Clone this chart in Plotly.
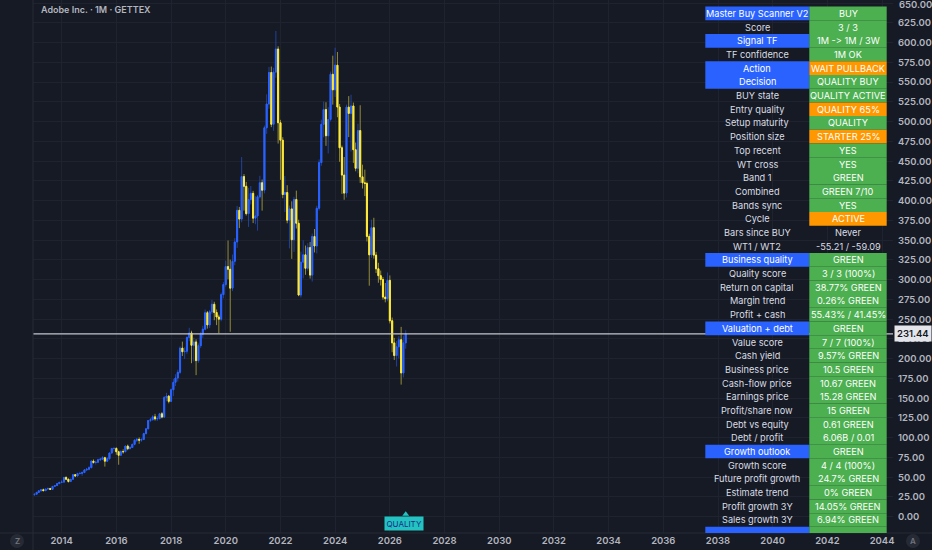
import plotly.graph_objects as go
import numpy as np

# ---------------- data (EUR, monthly, GETTEX) ----------------
dates = [f"{y}-{m:02d}-01" for y in range(2013, 2027) for m in range(1, 13)][:164]

open_ = [
    27.6, 28.5, 30.8, 32.8, 34.1, 33.0, 35.0, 35.8, 34.6, 38.4, 39.4, 41.9,
    43.5, 43.8, 49.7, 47.4, 44.6, 47.4, 53.2, 51.6, 54.7, 54.8, 55.9, 59.2,
    60.1, 62.1, 70.4, 68.6, 68.9, 72.1, 72.8, 74.7, 70.3, 73.4, 80.6, 86.3,
    86.4, 82.2, 77.8, 82.4, 82.3, 89.4, 86.1, 87.6, 91.6, 96.8, 97.9, 96.9,
    97.8, 105.2, 111.3, 121.8, 122.9, 126.4, 123.9, 124.2, 130.3, 126.1, 150.8, 152.6,
    146.0, 160.7, 170.1, 175.6, 182.8, 213.4, 208.8, 209.4, 226.9, 232.6, 216.9, 221.2,
    197.6, 216.5, 230.9, 237.3, 258.2, 242.8, 259.3, 268.9, 258.5, 252.8, 250.0, 281.1,
    293.9, 316.6, 313.2, 289.3, 323.3, 347.8, 387.8, 376.7, 430.5, 418.2, 383.6, 401.5,
    409.3, 377.9, 380.7, 404.9, 422.7, 413.3, 492.3, 522.3, 562.2, 496.7, 562.7, 591.9,
    498.6, 476.6, 407.8, 410.3, 375.3, 389.6, 350.6, 401.5, 371.4, 280.6, 322.2, 331.5,
    314.4, 340.6, 305.8, 354.7, 342.6, 390.4, 448.2, 496.6, 515.3, 482.2, 502.8, 560.0,
    540.3, 571.5, 518.5, 467.0, 432.4, 409.6, 518.4, 510.5, 519.9, 464.5, 441.0, 488.7,
    430.2, 422.6, 421.8, 354.8, 331.5, 365.8, 331.1, 313.8, 305.1, 300.3, 278.0, 276.0,
    299.2, 248.0, 220.0, 204.0, 215.0, 224.0, 182.0, 220.0,
]
high = [
    29.0, 31.2, 33.2, 34.6, 35.6, 35.5, 36.9, 36.4, 38.9, 40.2, 42.3, 44.0,
    46.3, 50.6, 51.2, 48.3, 47.9, 53.8, 54.1, 55.6, 56.9, 57.3, 60.4, 61.8,
    63.9, 71.3, 72.6, 71.0, 73.4, 74.6, 76.8, 75.9, 75.4, 81.4, 87.2, 88.4,
    87.9, 83.6, 84.1, 85.3, 90.2, 91.3, 89.5, 92.4, 98.1, 99.7, 100.4, 99.2,
    106.3, 112.4, 122.6, 125.1, 128.7, 130.2, 127.6, 131.5, 132.4, 152.9, 156.8, 154.1,
    162.4, 174.2, 180.3, 186.1, 215.7, 221.6, 214.5, 228.3, 239.1, 235.4, 226.8, 224.6,
    219.4, 234.1, 241.7, 262.3, 260.4, 261.8, 274.6, 272.1, 262.3, 255.7, 283.6, 297.2,
    324.1, 349.6, 325.4, 331.8, 352.6, 393.4, 392.1, 455.2, 433.7, 423.8, 416.2, 418.6,
    412.4, 405.6, 407.2, 431.5, 426.8, 495.1, 534.6, 569.3, 569.8, 568.2, 614.8, 595.4,
    502.3, 480.4, 431.2, 419.6, 393.8, 399.2, 404.8, 412.7, 375.9, 335.6, 349.8, 343.2,
    346.2, 347.8, 358.4, 364.1, 393.6, 452.3, 502.6, 525.4, 524.6, 518.3, 563.4, 583.5,
    593.6, 588.2, 522.4, 469.8, 455.3, 521.6, 532.4, 534.1, 524.2, 473.6, 497.4, 520.8,
    445.6, 439.3, 424.1, 358.2, 375.9, 378.4, 335.2, 321.4, 311.6, 303.4, 295.8, 309.2,
    305.4, 252.1, 226.3, 222.4, 228.6, 240.3, 229.2, 236.1,
]
low = [
    27.2, 28.2, 30.1, 31.7, 32.5, 32.4, 34.6, 33.9, 34.3, 37.5, 38.9, 41.3,
    42.6, 43.1, 46.3, 43.2, 43.8, 46.9, 50.2, 50.9, 53.4, 51.8, 55.2, 57.6,
    58.8, 61.4, 67.2, 66.1, 68.1, 70.5, 71.9, 63.5, 69.2, 72.3, 79.8, 82.6,
    78.4, 65.8, 77.1, 79.8, 81.6, 84.2, 85.3, 86.9, 90.4, 94.6, 92.3, 94.8,
    96.9, 104.1, 110.6, 119.8, 121.4, 121.7, 121.2, 123.1, 124.6, 125.3, 146.2, 143.5,
    145.1, 152.6, 165.4, 171.2, 180.9, 203.4, 199.7, 206.2, 222.1, 194.3, 196.5, 179.2,
    194.8, 213.6, 226.4, 235.8, 238.1, 238.9, 256.4, 248.7, 242.5, 232.1, 247.3, 276.4,
    291.2, 300.5, 234.1, 285.6, 318.4, 340.2, 365.3, 372.6, 387.4, 381.2, 366.8, 395.3,
    371.6, 370.2, 362.1, 402.6, 387.4, 409.2, 484.5, 516.4, 493.1, 488.4, 555.6, 472.3,
    426.4, 403.1, 385.6, 371.4, 339.6, 326.4, 335.2, 364.8, 279.1, 277.4, 301.6, 306.2,
    311.3, 301.4, 297.6, 334.5, 333.2, 387.6, 444.1, 480.2, 469.4, 459.8, 500.4, 521.6,
    531.2, 505.6, 449.2, 408.6, 401.2, 404.1, 480.5, 462.3, 447.8, 437.2, 434.6, 422.5,
    415.4, 405.8, 348.3, 292.4, 327.6, 326.7, 308.4, 296.1, 292.6, 274.8, 271.3, 272.6,
    244.6, 208.2, 198.4, 190.1, 200.3, 167.2, 176.4, 212.6,
]
close = [
    28.5, 30.8, 32.8, 34.1, 33.0, 35.0, 35.8, 34.6, 38.4, 39.4, 41.9, 43.5,
    43.8, 49.7, 47.4, 44.6, 47.4, 53.2, 51.6, 54.7, 54.8, 55.9, 59.2, 60.1,
    62.1, 70.4, 68.6, 68.9, 72.1, 72.8, 74.7, 70.3, 73.4, 80.6, 86.3, 86.4,
    82.2, 77.8, 82.4, 82.3, 89.4, 86.1, 87.6, 91.6, 96.8, 97.9, 96.9, 97.8,
    105.2, 111.3, 121.8, 122.9, 126.4, 123.9, 124.2, 130.3, 126.1, 150.8, 152.6, 146.0,
    160.7, 170.1, 175.6, 182.8, 213.4, 208.8, 209.4, 226.9, 232.6, 216.9, 221.2, 197.6,
    216.5, 230.9, 237.3, 258.2, 242.8, 259.3, 268.9, 258.5, 252.8, 250.0, 281.1, 293.9,
    316.6, 313.2, 289.3, 323.3, 347.8, 387.8, 376.7, 430.5, 418.2, 383.6, 401.5, 409.3,
    377.9, 380.7, 404.9, 422.7, 413.3, 492.3, 522.3, 562.2, 496.7, 562.7, 591.9, 498.6,
    476.6, 407.8, 410.3, 375.3, 389.6, 350.6, 401.5, 371.4, 280.6, 322.2, 331.5, 314.4,
    340.6, 305.8, 354.7, 342.6, 390.4, 448.2, 496.6, 515.3, 482.2, 502.8, 560.0, 540.3,
    571.5, 518.5, 467.0, 432.4, 409.6, 518.4, 510.5, 519.9, 464.5, 441.0, 488.7, 430.2,
    422.6, 421.8, 354.8, 331.5, 365.8, 331.1, 313.8, 305.1, 300.3, 278.0, 276.0, 299.2,
    248.0, 220.0, 204.0, 215.0, 224.0, 182.0, 220.0, 231.44,
]

title_text = "Adobe Inc. · 1M · GETTEX"
last_price = close[-1]
signal_label = "QUALITY"
top_price_label = 650

table_labels = [
    "Master Buy Scanner V2", "Score", "Signal TF", "TF confidence", "Action", "Decision",
    "BUY state", "Entry quality", "Setup maturity", "Position size", "Top recent", "WT cross",
    "Band 1", "Combined", "Bands sync", "Cycle", "Bars since BUY", "WT1 / WT2",
    "Business quality", "Quality score", "Return on capital", "Margin trend", "Profit + cash",
    "Valuation + debt", "Value score", "Cash yield", "Business price", "Cash-flow price",
    "Earnings price", "Profit/share now", "Debt vs equity", "Debt / profit",
    "Growth outlook", "Growth score", "Future profit growth", "Estimate trend",
    "Profit growth 3Y", "Sales growth 3Y", "Advanced",
]
table_values = [
    "BUY", "3 / 3", "1M -\u200c> 1M / 3W", "1M OK", "WAIT PULLBACK", "QUALITY BUY",
    "QUALITY ACTIVE", "QUALITY 65%", "QUALITY", "STARTER 25%", "YES", "YES",
    "GREEN", "GREEN 7/10", "YES", "ACTIVE", "Never", "-55.21 / -59.09",
    "GREEN", "3 / 3 (100%)", "38.77% GREEN", "0.26% GREEN", "55.43% / 41.45%",
    "GREEN", "7 / 7 (100%)", "9.57% GREEN", "10.5 GREEN", "10.67 GREEN",
    "15.28 GREEN", "15 GREEN", "0.61 GREEN", "6.06B / 0.01",
    "GREEN", "4 / 4 (100%)", "24.7% GREEN", "0% GREEN",
    "14.05% GREEN", "6.94% GREEN", "GREEN",
]
# left cell style: 'h' = blue header cell, '' = plain
table_left_style = [
    "h", "", "h", "", "h", "h", "", "", "", "", "", "",
    "", "", "", "", "", "",
    "h", "", "", "", "",
    "h", "", "", "", "", "", "", "", "",
    "h", "", "", "", "", "", "h",
]
# right cell style: 'g' green, 'o' orange, '' none
table_right_style = [
    "g", "g", "g", "g", "o", "g", "g", "o", "g", "o", "g", "g",
    "g", "g", "g", "o", "", "",
    "g", "g", "g", "g", "g",
    "g", "g", "g", "g", "g", "g", "g", "g", "g",
    "g", "g", "g", "g", "g", "g", "g",
]

# ---------------- style ----------------
W, H = 932, 550
ML, MR, MT, MB = 33, 39, 0, 17
PW, PH = W - ML - MR, H - MT - MB
BG = "#161a25"
GRID = "#1f2330"
AXTXT = "#b2b5be"
BLUE = "#2962ff"
YEL = "#ffeb3b"
GREEN = "#4caf50"
ORANGE = "#ff9800"
FONT = "Inter"


def px(xp):
    return (xp - ML) / PW


def py(yp):
    return (H - MB - yp) / PH


o = np.array(open_)
c = np.array(close)
body_hi = np.maximum(o, c)
body_lo = np.minimum(o, c)

fig = go.Figure()
# full range (wicks) in dim colours
fig.add_trace(go.Candlestick(
    x=dates, open=open_, high=high, low=low, close=close,
    increasing=dict(line=dict(color="rgba(41,98,255,0.55)", width=1),
                    fillcolor="rgba(41,98,255,0.55)"),
    decreasing=dict(line=dict(color="rgba(170,160,60,0.85)", width=1),
                    fillcolor="rgba(170,160,60,0.85)"),
    whiskerwidth=0, hoverinfo="skip", showlegend=False,
))
# bodies in bright colours
fig.add_trace(go.Candlestick(
    x=dates, open=open_, high=body_hi, low=body_lo, close=close,
    increasing=dict(line=dict(color=BLUE, width=1), fillcolor=BLUE),
    decreasing=dict(line=dict(color=YEL, width=1), fillcolor=YEL),
    whiskerwidth=0, hoverinfo="skip", showlegend=False,
))

# pointer of the signal label
fig.add_trace(go.Scatter(
    x=[dates[-1]], y=[3], mode="markers",
    marker=dict(symbol="triangle-up", size=6, color="#22c3c0"),
    hoverinfo="skip", showlegend=False,
))

shapes = []
annotations = []

# last price line
shapes.append(dict(type="line", xref="paper", x0=0, x1=1, yref="y",
                   y0=last_price, y1=last_price,
                   line=dict(color="#c3c6ce", width=1.3), layer="above"))

# pane separators
shapes.append(dict(type="line", xref="paper", yref="paper", x0=0, x1=0,
                   y0=py(H), y1=1, line=dict(color="#262a36", width=1)))
shapes.append(dict(type="line", xref="paper", yref="paper", x0=px(0), x1=px(W),
                   y0=0, y1=0, line=dict(color="#262a36", width=1)))

# table
row_h = 13.69
row_top0 = 6.6
lx0, lx1, rx1 = 705.3, 809.3, 886.7
for i, (lab, val) in enumerate(zip(table_labels, table_values)):
    t = row_top0 + i * row_h
    b = min(t + row_h, H - MB)
    if t >= H - MB:
        break
    if table_left_style[i] == "h":
        shapes.append(dict(type="rect", xref="paper", yref="paper",
                           x0=px(lx0), x1=px(lx1), y0=py(b), y1=py(t),
                           fillcolor=BLUE, line=dict(width=0), layer="above"))
    rs = table_right_style[i]
    if rs:
        shapes.append(dict(type="rect", xref="paper", yref="paper",
                           x0=px(lx1), x1=px(rx1), y0=py(b), y1=py(t),
                           fillcolor=GREEN if rs == "g" else ORANGE,
                           line=dict(width=0), layer="above"))
    if t + row_h > H - MB:
        continue
    cy = py(t + row_h / 2)
    annotations.append(dict(xref="paper", yref="paper", x=px((lx0 + lx1) / 2), y=cy,
                            text=lab, showarrow=False, xanchor="center", yanchor="middle",
                            font=dict(family=FONT, size=9.2,
                                      color="#ffffff" if table_left_style[i] == "h" else "#dadde3")))
    annotations.append(dict(xref="paper", yref="paper", x=px((lx1 + rx1) / 2), y=cy,
                            text=val, showarrow=False, xanchor="center", yanchor="middle",
                            font=dict(family=FONT, size=9.2,
                                      color="#ffffff" if rs else "#dadde3")))

# title
annotations.append(dict(xref="paper", yref="paper", x=px(39), y=py(9), text=title_text,
                        showarrow=False, xanchor="left", yanchor="middle",
                        font=dict(family=FONT, size=9, color=AXTXT, weight=600)))

# top price scale label (plotly drops it at the very edge)
annotations.append(dict(xref="paper", yref="y", x=1, y=top_price_label,
                        text=f"{top_price_label:.2f}", showarrow=False,
                        xanchor="left", yanchor="middle", xshift=4, yshift=-1,
                        font=dict(family=FONT, size=9.5, color=AXTXT, weight=600)))

# last price tag
annotations.append(dict(xref="paper", yref="y", x=1, y=last_price, text=f"{last_price:.2f}",
                        showarrow=False, xanchor="left", yanchor="middle", xshift=1,
                        bgcolor="#e3e5ea", borderpad=2,
                        font=dict(family=FONT, size=9.5, color="#131722", weight=600)))

# signal label
annotations.append(dict(xref="x", yref="y", x=dates[-1], y=1, text=signal_label,
                        showarrow=False, xanchor="center", yanchor="top", xshift=-2,
                        bgcolor="#22c3c0", borderpad=1.5,
                        font=dict(family=FONT, size=8, color="#1e2a8c")))

# small corner buttons
for bx, lettr in ((17, "Z"), (913, "A")):
    shapes.append(dict(type="circle", xref="paper", yref="paper",
                       x0=px(bx - 7), x1=px(bx + 7), y0=py(548), y1=py(534),
                       fillcolor="#262a35", line=dict(width=0)))
    annotations.append(dict(xref="paper", yref="paper", x=px(bx), y=py(541), text=lettr,
                            showarrow=False, xanchor="center", yanchor="middle",
                            font=dict(family=FONT, size=8, color="#70747f", weight=600)))

fig.update_layout(
    width=W, height=H,
    margin=dict(l=ML, r=MR, t=MT, b=MB),
    paper_bgcolor=BG, plot_bgcolor=BG,
    shapes=shapes, annotations=annotations,
    showlegend=False,
    xaxis=dict(
        type="date", range=["2012-12-14", "2044-05-26"],
        tick0="2014-01-01", dtick="M24", tickformat="%Y",
        showgrid=True, gridcolor=GRID, gridwidth=1, zeroline=False,
        showline=False, ticks="", ticklabelstandoff=0,
        tickfont=dict(family=FONT, size=9.5, color=AXTXT, weight=600),
        rangeslider=dict(visible=False), fixedrange=True,
    ),
    yaxis=dict(
        side="right", range=[-20.6, 654.0], tick0=0, dtick=25, tickformat=".2f",
        showgrid=True, gridcolor=GRID, gridwidth=1, zeroline=False,
        showline=False, ticks="", ticklabelstandoff=4,
        tickfont=dict(family=FONT, size=9.5, color=AXTXT, weight=600),
        fixedrange=True,
    ),
)

fig.write_html(
    "out.html",
    config={"displayModeBar": False},
    post_script="document.body.style.margin='0';document.body.style.background='#161a25';",
)
